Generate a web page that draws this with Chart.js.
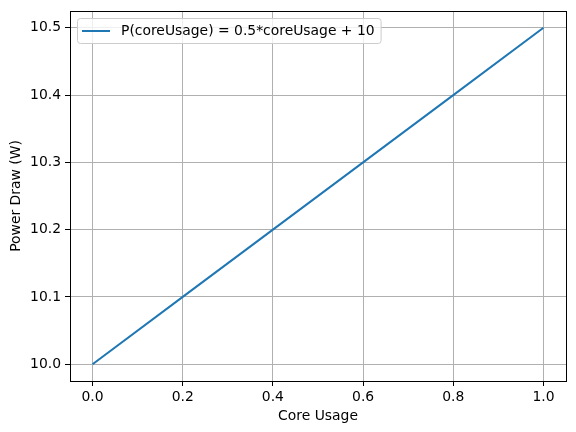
<!DOCTYPE html>
<html>
<head>
<meta charset="utf-8">
<script src="https://cdn.jsdelivr.net/npm/chart.js@4/dist/chart.umd.min.js"></script>
<style>
  html, body { margin: 0; padding: 0; background: #fff; }
  canvas { display: block; }
</style>
</head>
<body>
<canvas id="powerChart" width="576" height="432"></canvas>
<script>
const coreUsage = [0.0, 0.2, 0.4, 0.6, 0.8, 1.0];
const powerDraw = [10.0, 10.1, 10.2, 10.3, 10.4, 10.5];
const xTicks = [0.0, 0.2, 0.4, 0.6, 0.8, 1.0];
const yTicks = [10.0, 10.1, 10.2, 10.3, 10.4, 10.5];
const seriesLabel = 'P(coreUsage) = 0.5*coreUsage + 10';

const FONT = 'DejaVu Sans';
const FSIZE = 13.9;

// black frame round the plot, like matplotlib spines
const frame = {
  id: 'frame',
  afterDraw(chart) {
    const { ctx, chartArea: a } = chart;
    ctx.save();
    ctx.strokeStyle = '#000';
    ctx.lineWidth = 1;
    ctx.strokeRect(Math.round(a.left) + 0.5, Math.round(a.top) + 0.5,
      Math.round(a.right - a.left), Math.round(a.bottom - a.top));
    ctx.restore();
  }
};

// legend box inside the upper left corner
const innerLegend = {
  id: 'innerLegend',
  afterDraw(chart) {
    const { ctx, chartArea: a } = chart;
    const ds = chart.data.datasets[0];
    ctx.save();
    ctx.font = FSIZE + 'px "' + FONT + '"';
    const tw = ctx.measureText(ds.label).width;
    const x = a.left + 7, y = a.top + 7;
    const w = 44 + tw + 6, h = 25;
    ctx.beginPath();
    ctx.roundRect(x + 0.5, y + 0.5, w, h, 3);
    ctx.fillStyle = 'rgba(255,255,255,0.8)';
    ctx.fill();
    ctx.strokeStyle = '#cccccc';
    ctx.lineWidth = 1;
    ctx.stroke();
    ctx.beginPath();
    ctx.moveTo(x + 5, y + h / 2 + 0.5);
    ctx.lineTo(x + 33, y + h / 2 + 0.5);
    ctx.strokeStyle = ds.borderColor;
    ctx.lineWidth = ds.borderWidth;
    ctx.stroke();
    ctx.fillStyle = '#000';
    ctx.textBaseline = 'middle';
    ctx.fillText(ds.label, x + 44, y + h / 2 + 1);
    ctx.restore();
  }
};

new Chart(document.getElementById('powerChart'), {
  type: 'line',
  data: {
    datasets: [{
      label: seriesLabel,
      data: coreUsage.map((c, i) => ({ x: c, y: powerDraw[i] })),
      borderColor: '#1f77b4',
      borderWidth: 2,
      pointRadius: 0,
      tension: 0,
      fill: false
    }]
  },
  options: {
    responsive: false,
    animation: false,
    devicePixelRatio: 1,
    layout: { padding: { top: 11, right: 10, left: 8, bottom: 7 } },
    plugins: { legend: { display: false }, tooltip: { enabled: false } },
    scales: {
      x: {
        type: 'linear',
        min: -0.05,
        max: 1.05,
        afterBuildTicks: s => { s.ticks = xTicks.map(v => ({ value: v })); },
        afterFit: s => { s.height = 44; s.paddingLeft = 0; s.paddingRight = 0; },
        grid: { color: '#b0b0b0', lineWidth: 1, tickColor: '#000', tickLength: 5 },
        border: { display: false },
        ticks: {
          color: '#000',
          font: { family: FONT, size: FSIZE },
          padding: 3,
          maxRotation: 0,
          callback: v => v.toFixed(1)
        },
        title: {
          display: true,
          text: 'Core Usage',
          color: '#000',
          font: { family: FONT, size: FSIZE },
          padding: { top: 3, bottom: 0 }
        }
      },
      y: {
        type: 'linear',
        min: 9.975,
        max: 10.525,
        afterBuildTicks: s => { s.ticks = yTicks.map(v => ({ value: v })); },
        afterFit: s => { s.width = 62; s.paddingTop = 0; s.paddingBottom = 0; },
        grid: { color: '#b0b0b0', lineWidth: 1, tickColor: '#000', tickLength: 5 },
        border: { display: false },
        ticks: {
          color: '#000',
          font: { family: FONT, size: FSIZE },
          padding: 4,
          callback: v => v.toFixed(1)
        },
        title: {
          display: true,
          text: 'Power Draw (W)',
          color: '#000',
          font: { family: FONT, size: FSIZE },
          padding: { top: 0, bottom: 0 }
        }
      }
    }
  },
  plugins: [frame, innerLegend]
});
</script>
</body>
</html>
